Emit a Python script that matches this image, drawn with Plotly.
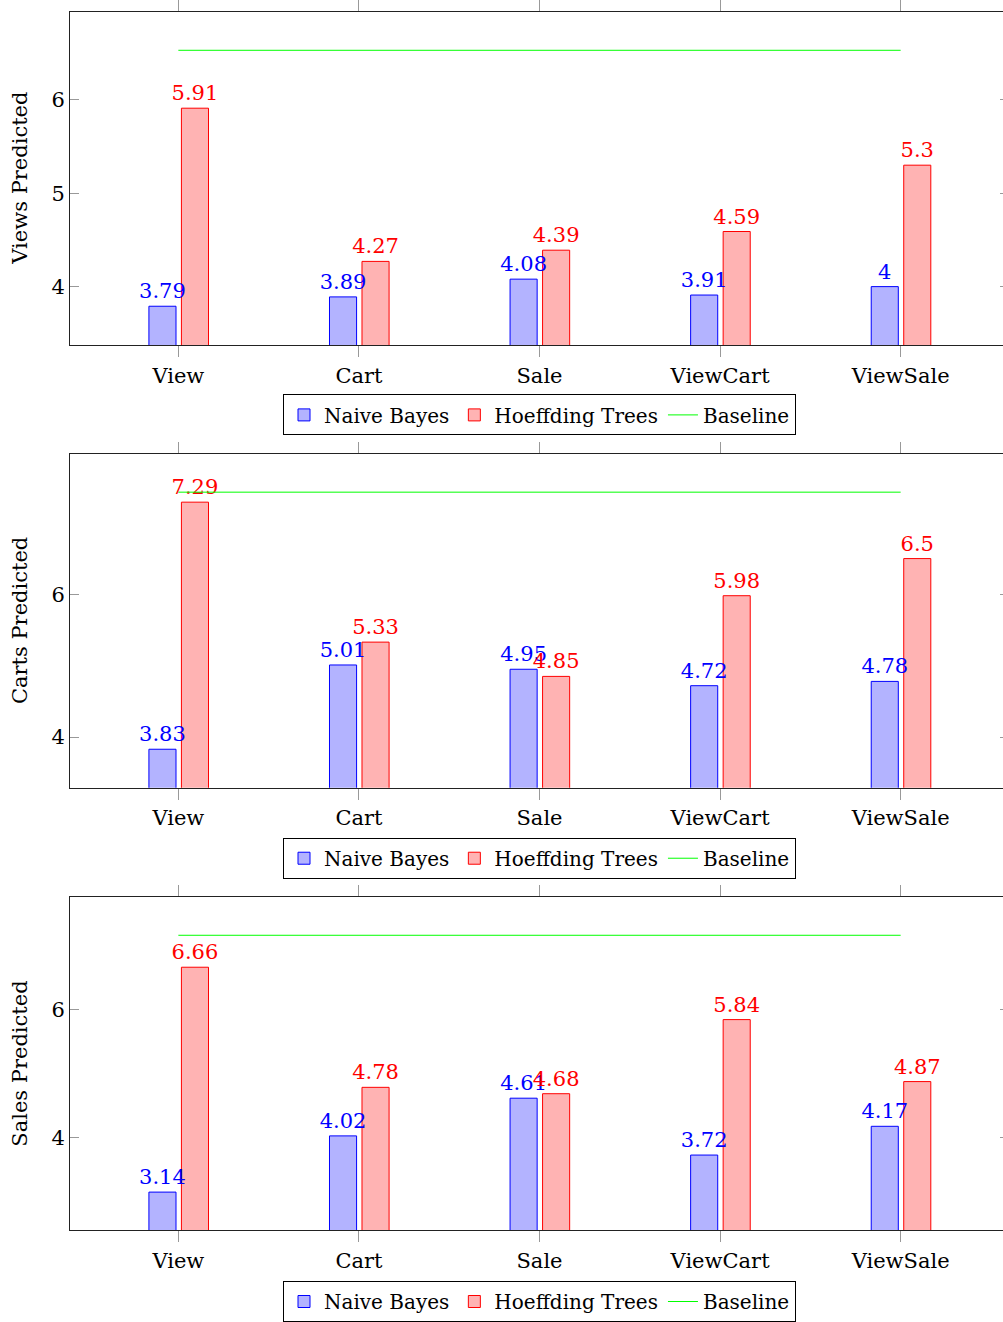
import plotly.graph_objects as go

categories = ["View", "Cart", "Sale", "ViewCart", "ViewSale"]

views_nb = [3.79, 3.89, 4.08, 3.91, 4.00]
views_ht = [5.91, 4.27, 4.39, 4.59, 5.30]
views_base = [6.53, 6.53, 6.53, 6.53, 6.53]

carts_nb = [3.83, 5.01, 4.95, 4.72, 4.78]
carts_ht = [7.29, 5.33, 4.85, 5.98, 6.50]
carts_base = [7.43, 7.43, 7.43, 7.43, 7.43]

sales_nb = [3.14, 4.02, 4.61, 3.72, 4.17]
sales_ht = [6.66, 4.78, 4.68, 5.84, 4.87]
sales_base = [7.16, 7.16, 7.16, 7.16, 7.16]

y_titles = ["Views Predicted", "Carts Predicted", "Sales Predicted"]
y_ranges = [[3.37, 6.94], [3.29, 7.96], [2.54, 7.76]]
y_ticks = [[4, 5, 6], [4, 6], [4, 6]]

panels = [
    (views_nb, views_ht, views_base),
    (carts_nb, carts_ht, carts_base),
    (sales_nb, sales_ht, sales_base),
]

W, H = 1010, 1322
FONT = "DejaVu Serif"
FS = 21

def fmt(v):
    s = f"{v:.2f}".rstrip("0").rstrip(".")
    return s

# pixel geometry (top, bottom) for each panel
panel_px = [(12, 346), (455, 789), (898.3, 1232.3)]
legend_top_px = [395, 839, 1283]
x0_px, x1_px = 70, 1009

BAR_W = 0.15
OFF_NB, OFF_HT = -0.163, 0.017

fig = go.Figure()
layout = dict(
    width=W, height=H,
    margin=dict(l=0, r=0, t=0, b=0),
    paper_bgcolor="white", plot_bgcolor="white",
    font=dict(family=FONT, size=FS, color="black"),
    showlegend=True,
    barmode="overlay",
    annotations=[],
)

for i, (nb, ht, base) in enumerate(panels):
    n = "" if i == 0 else str(i + 1)
    xa, ya = "x" + n, "y" + n
    leg = "legend" + n
    fig.add_trace(go.Bar(
        x=categories, y=nb, name="Naive Bayes",
        xaxis=xa, yaxis=ya, legend=leg,
        width=BAR_W, offset=OFF_NB,
        marker=dict(color="#b3b3ff", line=dict(color="blue", width=1)),
    ))
    fig.add_trace(go.Bar(
        x=categories, y=ht, name="Hoeffding Trees",
        xaxis=xa, yaxis=ya, legend=leg,
        width=BAR_W, offset=OFF_HT,
        marker=dict(color="#ffb3b3", line=dict(color="red", width=1)),
    ))
    fig.add_trace(go.Scatter(
        x=categories, y=base, name="Baseline", mode="lines",
        xaxis=xa, yaxis=ya, legend=leg,
        line=dict(color="#00ff00", width=1),
    ))
    # value labels drawn on top (transparent bars carrying the text)
    for vals, off, col in ((nb, OFF_NB, "blue"), (ht, OFF_HT, "red")):
        fig.add_trace(go.Bar(
            x=categories, y=vals, showlegend=False, hoverinfo="skip",
            xaxis=xa, yaxis=ya, legend=leg,
            width=BAR_W, offset=off,
            marker=dict(color="rgba(0,0,0,0)", line=dict(width=0)),
            text=[fmt(v) for v in vals], textposition="outside",
            constraintext="none",
            textfont=dict(color=col, size=FS, family=FONT),
            cliponaxis=False,
        ))
    top, bot = panel_px[i]
    ydom = [1 - bot / H, 1 - top / H]
    layout["xaxis" + n] = dict(
        domain=[x0_px / W, x1_px / W], anchor=ya,
        range=[-0.6, 4.6], type="category",
        showline=True, linecolor="#222", linewidth=1, mirror="ticks",
        ticks="outside", ticklen=11, tickcolor="#999", tickwidth=1,
        showgrid=False, zeroline=False,
        tickfont=dict(family=FONT, size=FS, color="black"),
    )
    layout["yaxis" + n] = dict(
        domain=ydom, anchor=xa,
        range=y_ranges[i], tickvals=y_ticks[i],
        showline=True, linecolor="#222", linewidth=1, mirror="ticks",
        ticks="inside", ticklen=9, tickcolor="#999", tickwidth=1,
        showgrid=False, zeroline=False,
        tickfont=dict(family=FONT, size=FS, color="black"),
    )
    layout["annotations"].append(dict(
        text=y_titles[i], xref="paper", yref="paper",
        x=20 / W, y=(ydom[0] + ydom[1]) / 2,
        xanchor="center", yanchor="middle", textangle=-90,
        showarrow=False, font=dict(family=FONT, size=FS, color="black"),
    ))
    layout[leg] = dict(
        orientation="h", xref="paper", yref="paper",
        x=(x0_px + x1_px) / 2 / W, xanchor="center",
        y=1 - legend_top_px[i] / H, yanchor="top",
        bordercolor="black", borderwidth=1, bgcolor="white",
        font=dict(family=FONT, size=20, color="black"),
        itemwidth=30, tracegroupgap=0,
    )

fig.update_layout(**layout)
fig.write_html("out.html")
